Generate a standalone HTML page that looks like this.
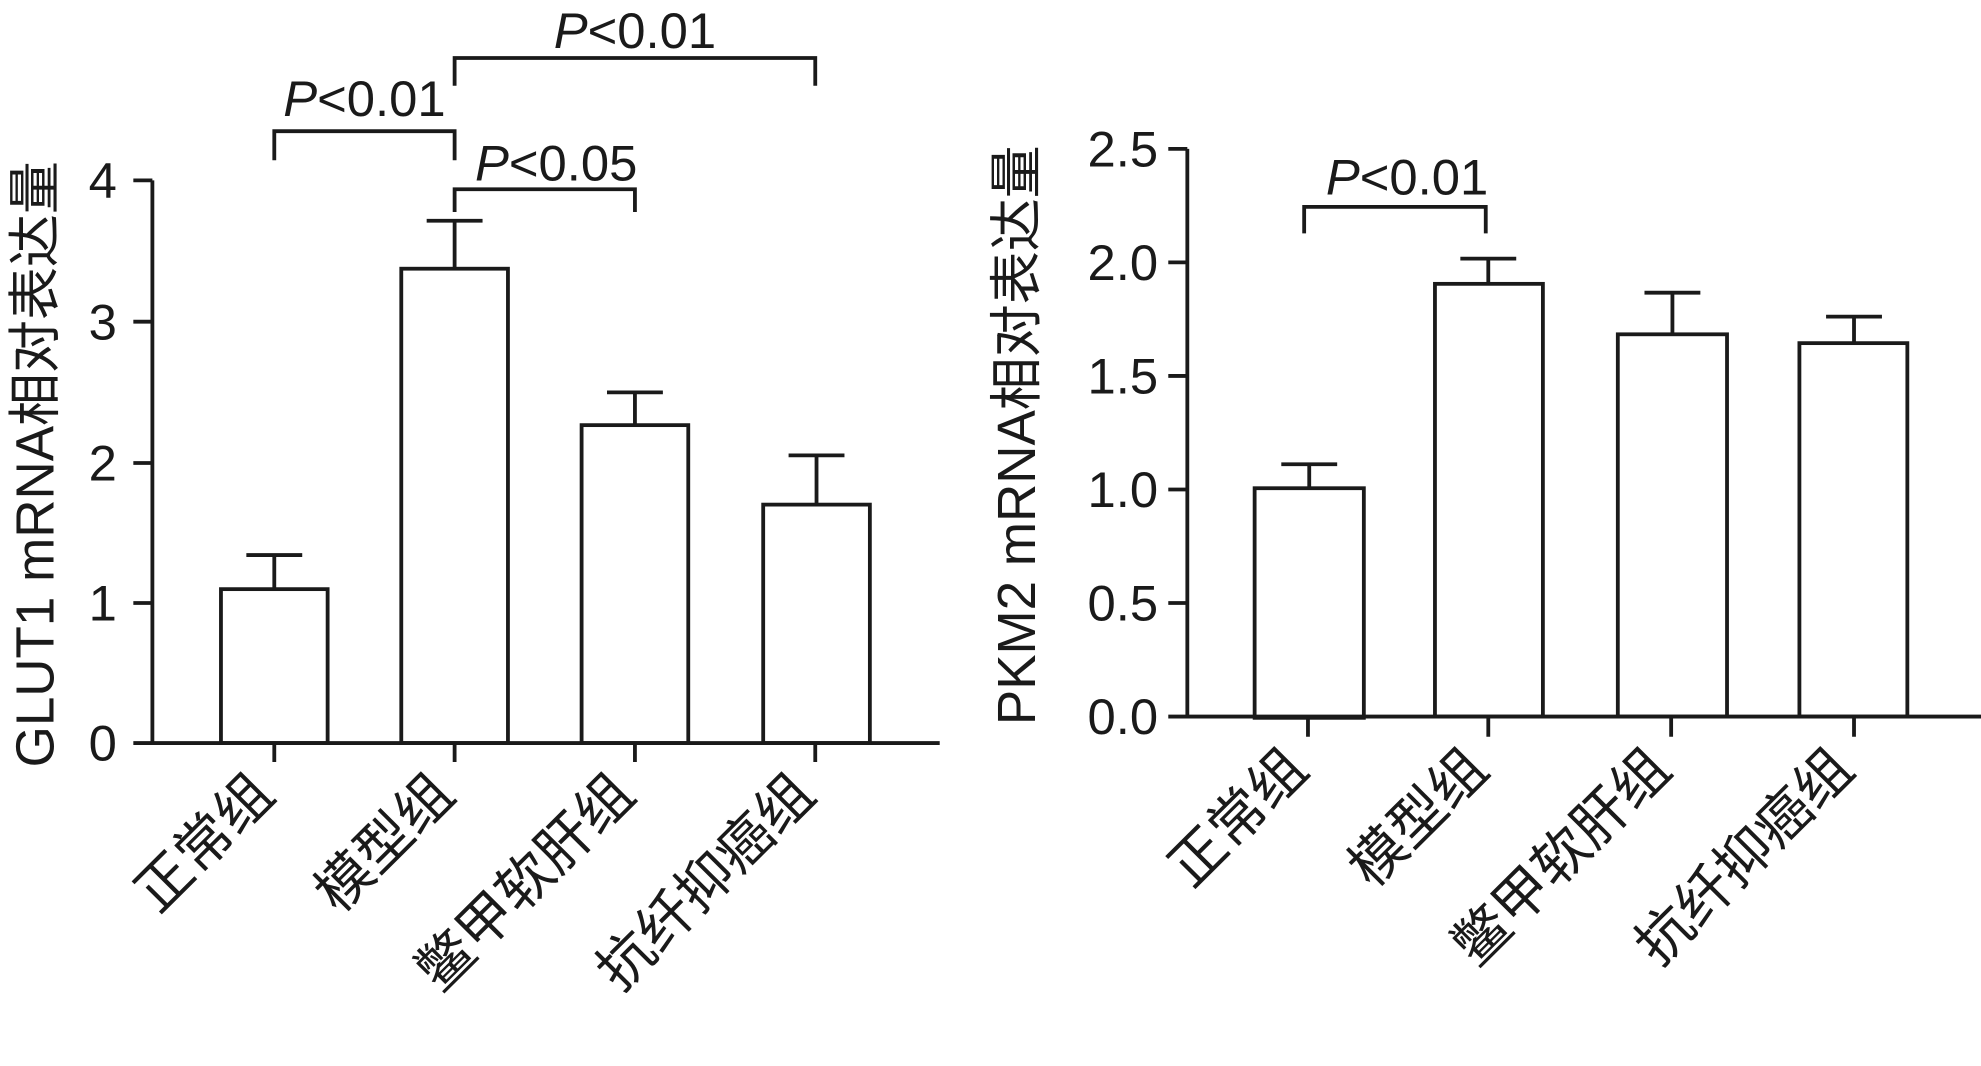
<!DOCTYPE html>
<html><head><meta charset="utf-8"><style>html,body{margin:0;padding:0;background:#fff;}svg{display:block}</style></head>
<body>
<svg width="1981" height="1066" viewBox="0 0 1560 845" preserveAspectRatio="none" xmlns="http://www.w3.org/2000/svg">
<g fill="none" stroke="#1a1a1a" stroke-width="3">
<path d="M120 143V589H740"/>
<path d="M105 143H120M105 255H120M105 367H120M105 478H120M105 589H120"/>
<path d="M216 589V604M358 589V604M500 589V604M642 589V604"/>
<rect x="174" y="467" width="84" height="122"/>
<rect x="316" y="213" width="84" height="376"/>
<rect x="458" y="337" width="84" height="252"/>
<rect x="601" y="400" width="84" height="189"/>
<path d="M216 467V440M194 440H238M358 213V175M336 175H380M500 337V311M478 311H522M643 400V361M621 361H665"/>
<path d="M216 127V104H358V127"/>
<path d="M358 68V46H642V68"/>
<path d="M358 168V150H500V168"/>
<path d="M935 118V568H1560"/>
<path d="M920 118H935M920 208H935M920 298H935M920 388H935M920 478H935M920 568H935"/>
<path d="M1030 568V584M1172 568V584M1316 568V584M1460 568V584"/>
<rect x="988" y="387" width="86" height="182"/>
<rect x="1130" y="225" width="85" height="343"/>
<rect x="1274" y="265" width="86" height="303"/>
<rect x="1417" y="272" width="85" height="296"/>
<path d="M1031 387V368H1009H1053M1172 225V205H1150H1194M1317 265V232H1295H1339M1460 272V251H1438H1482"/>
<path d="M1027 185V164H1170V185"/>
</g>
<g font-family="'Liberation Sans','Noto Sans CJK SC',sans-serif" font-size="40" fill="#1a1a1a">
<g text-anchor="end">
<text x="92" y="157">4</text><text x="92" y="269">3</text><text x="92" y="381">2</text><text x="92" y="492">1</text><text x="92" y="603">0</text>
<text x="912" y="132">2.5</text><text x="912" y="222">2.0</text><text x="912" y="312">1.5</text><text x="912" y="402">1.0</text><text x="912" y="492">0.5</text><text x="912" y="582">0.0</text>
</g>
<g text-anchor="middle">
<text x="287" y="92"><tspan font-style="italic">P</tspan>&lt;0.01</text>
<text x="500" y="38"><tspan font-style="italic">P</tspan>&lt;0.01</text>
<text x="438" y="143"><tspan font-style="italic">P</tspan>&lt;0.05</text>
<text x="1108" y="154"><tspan font-style="italic">P</tspan>&lt;0.01</text>
<text transform="translate(42,368) rotate(-90)" font-size="42">GLUT1 mRNA相对表达量</text>
<text transform="translate(815,345) rotate(-90)" font-size="42">PKM2 mRNA相对表达量</text>
</g>
<g text-anchor="end" font-size="44">
<text transform="translate(218,632) rotate(-45)">正常组</text>
<text transform="translate(360,632) rotate(-45)">模型组</text>
<text transform="translate(502,632) rotate(-45)">鳖甲软肝组</text>
<text transform="translate(644,632) rotate(-45)">抗纤抑癌组</text>
<text transform="translate(1032,612) rotate(-45)">正常组</text>
<text transform="translate(1174,612) rotate(-45)">模型组</text>
<text transform="translate(1318,612) rotate(-45)">鳖甲软肝组</text>
<text transform="translate(1462,612) rotate(-45)">抗纤抑癌组</text>
</g>
</g>
</svg>
</body></html>
